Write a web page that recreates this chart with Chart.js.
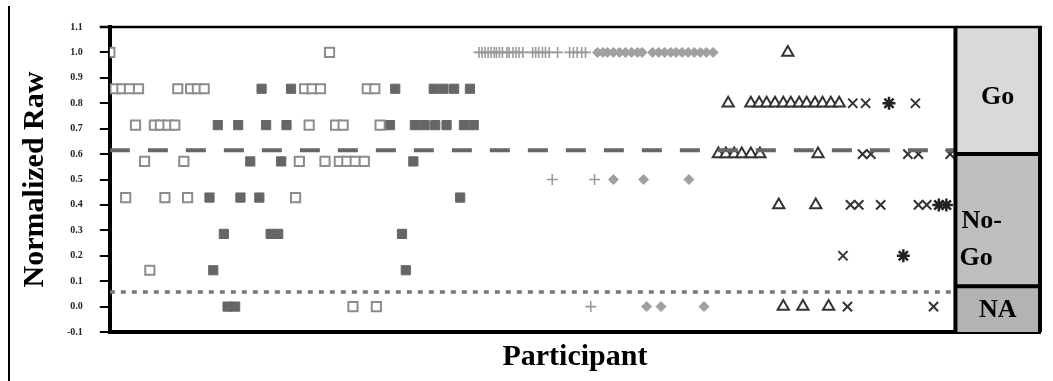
<!DOCTYPE html>
<html>
<head>
<meta charset="utf-8">
<script src="https://cdn.jsdelivr.net/npm/chart.js@4.4.1/dist/chart.umd.min.js"></script>
<style>
  body { margin: 0; background: #fff; }
  #wrap { position: relative; width: 1053px; height: 381px; }
  #edge { position: absolute; left: 8px; top: 6px; width: 2px; height: 375px; background: #000; }
</style>
</head>
<body>
<div id="wrap">
  <div id="edge"></div>
  <canvas id="scoreChart" width="1053" height="381"></canvas>
</div>
<script>
// y tick labels
var yTickValues = [-0.1, 0, 0.1, 0.2, 0.3, 0.4, 0.5, 0.6, 0.7, 0.8, 0.9, 1.0, 1.1];

// open squares
var openSquareX = [0, 29.1,
    0.7, 1.6, 2.6, 3.8, 9.0, 10.7, 11.6, 12.5, 25.8, 26.8, 27.9, 34.1, 35.1,
    3.4, 5.9, 6.7, 7.7, 8.6, 26.4, 29.9, 30.9, 35.8,
    4.6, 9.8, 25.1, 28.5, 30.4, 31.4, 32.5, 33.7,
    2.1, 7.3, 10.3, 24.6,
    5.3,
    32.2, 35.3];
var openSquareY = [1.0, 1.0,
    0.857, 0.857, 0.857, 0.857, 0.857, 0.857, 0.857, 0.857, 0.857, 0.857, 0.857, 0.857, 0.857,
    0.714, 0.714, 0.714, 0.714, 0.714, 0.714, 0.714, 0.714, 0.714,
    0.571, 0.571, 0.571, 0.571, 0.571, 0.571, 0.571, 0.571,
    0.429, 0.429, 0.429, 0.429,
    0.143,
    0, 0];

// filled squares
var filledSquareX = [20.1, 24.0, 37.8, 42.9, 44.2, 45.6, 47.7,
    14.3, 17.0, 20.7, 23.4, 37.1, 40.4, 41.7, 43.1, 44.6, 46.9, 48.2,
    18.6, 22.7, 40.2,
    13.2, 17.3, 19.8, 46.4,
    15.1, 21.3, 22.3, 38.7,
    13.7, 39.2,
    15.6, 16.6];
var filledSquareY = [0.857, 0.857, 0.857, 0.857, 0.857, 0.857, 0.857,
    0.714, 0.714, 0.714, 0.714, 0.714, 0.714, 0.714, 0.714, 0.714, 0.714, 0.714,
    0.571, 0.571, 0.571,
    0.429, 0.429, 0.429, 0.429,
    0.286, 0.286, 0.286, 0.286,
    0.143, 0.143,
    0, 0];

// plus signs
var plusX = [48.9, 49.3, 49.7, 50.1, 50.5, 50.9, 51.2, 51.6, 52.0, 52.6, 52.9, 53.4, 53.8, 54.2, 54.7,
    56.0, 56.4, 56.8, 57.3, 57.7, 58.2, 59.3, 60.9, 61.4, 61.9, 62.5, 63.0,
    58.6, 64.2,
    63.7];
var plusY = [1, 1, 1, 1, 1, 1, 1, 1, 1, 1, 1, 1, 1, 1, 1,
    1, 1, 1, 1, 1, 1, 1, 1, 1, 1, 1, 1,
    0.5, 0.5,
    0];

// diamonds
var diamondX = [64.6, 65.3, 65.9, 66.7, 67.5, 68.3, 69.1, 69.9, 70.5, 71.9,
    72.7, 73.5, 74.3, 75.0, 75.8, 76.6, 77.4, 78.2, 79.0, 79.9,
    66.7, 70.7, 76.7,
    71.1, 73.0, 78.7];
var diamondY = [1, 1, 1, 1, 1, 1, 1, 1, 1, 1,
    1, 1, 1, 1, 1, 1, 1, 1, 1, 1,
    0.5, 0.5, 0.5,
    0, 0, 0];

// triangles
var triangleX = [89.8,
    81.9, 84.9, 86.0, 87.0, 88.1, 89.2, 90.2, 91.3, 92.3, 93.4, 94.4, 95.5, 96.6,
    80.6, 81.6, 82.7, 83.7, 84.9, 86.1, 93.8,
    88.6, 93.5,
    89.2, 91.8, 95.2];
var triangleY = [1.0,
    0.8, 0.8, 0.8, 0.8, 0.8, 0.8, 0.8, 0.8, 0.8, 0.8, 0.8, 0.8, 0.8,
    0.6, 0.6, 0.6, 0.6, 0.6, 0.6, 0.6,
    0.4, 0.4,
    0, 0, 0];

// x marks
var crossX = [98.4, 100.1, 106.7,
    99.7, 100.8, 105.7, 107.1, 111.3,
    98.1, 99.2, 102.1, 107.1, 108.2,
    97.1,
    97.7, 109.1];
var crossY = [0.8, 0.8, 0.8,
    0.6, 0.6, 0.6, 0.6, 0.6,
    0.4, 0.4, 0.4, 0.4, 0.4,
    0.2,
    0, 0];

// asterisks
var starX = [103.2, 109.8, 110.8, 105.1];
var starY = [0.8, 0.4, 0.4, 0.2];

// cut-off lines and right hand zones
var goCutoff = 0.615;
var naCutoff = 0.057;
var zoneLabels = ['Go', 'No-Go', 'NA'];
var zoneBounds = [[0.6, 1.1], [0.08, 0.6], [-0.1, 0.08]];
var zoneFills = ['#d9d9d9', '#bfbfbf', '#b3b3b3'];

var plotEnd = 112;     // last participant slot
var panelEnd = 123.2;  // right edge of the zone boxes

function toPoints(xs, ys) {
    let pts = [];
    for (let i = 0; i < xs.length; i++) {
        pts.push({x: xs[i], y: ys[i]});
    }
    return pts;
}

function markSet(xs, ys, style) {
    return Object.assign({
        data: toPoints(xs, ys),
        showLine: false,
        clip: 0,
        order: 5
    }, style);
}

// cut-off lines sit on top of the marks
function cutLine(value, style) {
    return Object.assign({
        data: [{x: 0, y: value}, {x: plotEnd, y: value}],
        showLine: true,
        pointRadius: 0,
        fill: false,
        clip: 0,
        order: 1
    }, style);
}

// draws the plot frame and the Go / No-Go / NA boxes
const zonePanel = {
    id: 'zonePanel',
    afterDatasetsDraw(chart) {
        const {ctx, chartArea} = chart;
        const xs = chart.scales.x, ys = chart.scales.y;
        const x0 = xs.getPixelForValue(plotEnd);
        const x1 = xs.getPixelForValue(panelEnd);
        ctx.save();
        ctx.fillStyle = '#fff';
        ctx.fillRect(x0, chartArea.top, x1 - x0, chartArea.bottom - chartArea.top);

        zoneBounds.forEach(function (b, i) {
            const top = ys.getPixelForValue(b[1]);
            const bot = ys.getPixelForValue(b[0]);
            ctx.fillStyle = zoneFills[i];
            ctx.fillRect(x0, top, x1 - x0, bot - top);
        });

        ctx.strokeStyle = '#000';
        ctx.lineWidth = 4;
        ctx.beginPath();
        ctx.moveTo(x0, chartArea.top);
        ctx.lineTo(x0, chartArea.bottom);
        ctx.moveTo(x1, chartArea.top);
        ctx.lineTo(x1, chartArea.bottom);
        for (let i = 1; i < zoneBounds.length; i++) {
            const yy = ys.getPixelForValue(zoneBounds[i][1]);
            ctx.moveTo(x0, yy);
            ctx.lineTo(x1, yy);
        }
        ctx.stroke();

        ctx.lineWidth = 2.5;
        ctx.beginPath();
        ctx.moveTo(chartArea.left - 10, chartArea.top);
        ctx.lineTo(x1 + 2, chartArea.top);
        ctx.stroke();

        // zone texts
        ctx.fillStyle = '#000';
        ctx.font = 'bold 26px "Liberation Serif"';
        ctx.textBaseline = 'middle';
        const mid = (x0 + x1) / 2;
        const goTop = ys.getPixelForValue(zoneBounds[0][1]);
        const goBot = ys.getPixelForValue(zoneBounds[0][0]);
        ctx.textAlign = 'center';
        ctx.fillText(zoneLabels[0], mid, (goTop + goBot) / 2 + 7);

        const ngTop = ys.getPixelForValue(zoneBounds[1][1]);
        const parts = ['No-', 'Go'];
        ctx.textAlign = 'left';
        ctx.fillText(parts[0], x0 + 6, ngTop + 67);
        ctx.fillText(parts[1], x0 + 4, ngTop + 104);

        const naTop = ys.getPixelForValue(zoneBounds[2][1]);
        const naBot = ys.getPixelForValue(zoneBounds[2][0]);
        ctx.textAlign = 'center';
        ctx.fillText(zoneLabels[2], mid, (naTop + naBot) / 2 + 1);
        ctx.restore();
    }
};

Chart.defaults.font.family = '"Liberation Serif"';
Chart.defaults.color = '#000';

new Chart(document.getElementById('scoreChart'), {
    type: 'scatter',
    data: {
        datasets: [
            markSet(openSquareX, openSquareY, {
                pointStyle: 'rect', pointRadius: 6.5, borderWidth: 2,
                backgroundColor: '#fff', borderColor: '#8c8c8c'
            }),
            markSet(filledSquareX, filledSquareY, {
                pointStyle: 'rect', pointRadius: 6.5, borderWidth: 1,
                backgroundColor: '#666', borderColor: '#666'
            }),
            markSet(plusX, plusY, {
                pointStyle: 'cross', pointRadius: 5.5, borderWidth: 1.6,
                backgroundColor: '#9a9a9a', borderColor: '#9a9a9a'
            }),
            markSet(diamondX, diamondY, {
                pointStyle: 'rectRot', pointRadius: 5, borderWidth: 1,
                backgroundColor: '#a0a0a0', borderColor: '#a0a0a0'
            }),
            markSet(triangleX, triangleY, {
                pointStyle: 'triangle', pointRadius: 6.5, borderWidth: 2,
                backgroundColor: '#fff', borderColor: '#333'
            }),
            markSet(crossX, crossY, {
                pointStyle: 'crossRot', pointRadius: 6.5, borderWidth: 2,
                backgroundColor: '#333', borderColor: '#333'
            }),
            markSet(starX, starY, {
                pointStyle: 'star', pointRadius: 6.5, borderWidth: 2.5,
                backgroundColor: '#222', borderColor: '#222'
            }),
            cutLine(goCutoff, {borderColor: '#666', borderWidth: 4, borderDash: [20, 18]}),
            cutLine(naCutoff, {borderColor: '#777', borderWidth: 3.5, borderDash: [5, 6]})
        ]
    },
    options: {
        responsive: false,
        animation: false,
        devicePixelRatio: 1,
        layout: {padding: {left: 20, right: 13, top: 27, bottom: 9}},
        plugins: {
            legend: {display: false},
            tooltip: {enabled: false}
        },
        scales: {
            x: {
                type: 'linear',
                min: 0,
                max: panelEnd,
                ticks: {display: false},
                grid: {display: false, drawTicks: false},
                border: {display: true, color: '#000', width: 4},
                title: {
                    display: true,
                    text: 'Participant',
                    color: '#000',
                    font: {size: 30, weight: 'bold', lineHeight: 1},
                    padding: {top: 10, bottom: 0}
                }
            },
            y: {
                type: 'linear',
                min: -0.1,
                max: 1.1,
                afterBuildTicks: function (scale) {
                    scale.ticks = yTickValues.map(function (v) { return {value: v}; });
                },
                ticks: {
                    padding: 17,
                    color: '#222',
                    font: {size: 10, weight: 'bold'},
                    callback: function (v) { return Number(v).toFixed(1); }
                },
                grid: {
                    drawOnChartArea: false,
                    drawTicks: true,
                    tickLength: 10,
                    color: '#000',
                    lineWidth: 2
                },
                border: {display: true, color: '#000', width: 4},
                title: {
                    display: true,
                    text: 'Normalized Raw',
                    color: '#000',
                    font: {size: 30, weight: 'bold', lineHeight: 1},
                    padding: {top: 0, bottom: 0}
                }
            }
        }
    },
    plugins: [zonePanel]
});
</script>
</body>
</html>
